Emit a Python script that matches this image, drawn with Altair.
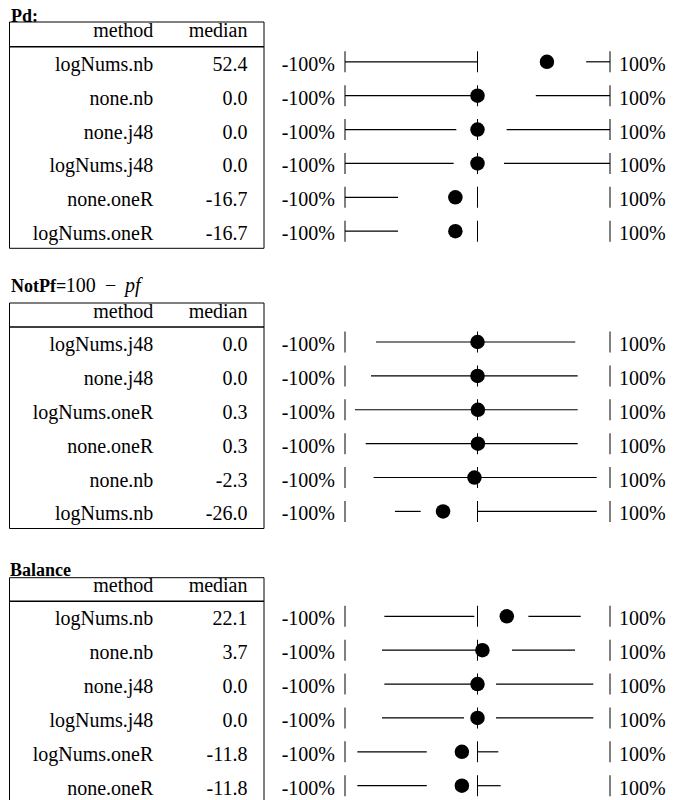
import altair as alt
import pandas as pd

FONT = "Liberation Serif"

# ---------------- data ----------------
ends = [-100, 0, 100]

pd_methods = ["logNums.nb", "none.nb", "none.j48", "logNums.j48", "none.oneR", "logNums.oneR"]
pd_median = [52.4, 0.0, 0.0, 0.0, -16.7, -16.7]
pd_q0 = [-100, -100, -100, -100, -100, -100]
pd_q1 = [0, 0, -16, -18, -60, -60]
pd_q3 = [82, 44, 22, 20, 0, 0]
pd_q4 = [100, 100, 100, 100, 0, 0]

pf_methods = ["logNums.j48", "none.j48", "logNums.oneR", "none.oneR", "none.nb", "logNums.nb"]
pf_median = [0.0, 0.0, 0.3, 0.3, -2.3, -26.0]
pf_q0 = [-76.6, -80.4, -92.5, -84.4, -78.4, -62.3]
pf_q1 = [0, 0, 0.3, 0.3, -2.3, -42.9]
pf_q3 = [0, 0, 0.3, 0.3, -2.3, 0]
pf_q4 = [73.8, 75.6, 75.6, 75.6, 90, 90]

bal_methods = ["logNums.nb", "none.nb", "none.j48", "logNums.j48", "logNums.oneR", "none.oneR"]
bal_median = [22.1, 3.7, 0.0, 0.0, -11.8, -11.8]
bal_q0 = [-70.3, -72.1, -70.3, -72.1, -90.7, -90.7]
bal_q1 = [-2.4, 0, 0, -10.2, -38.3, -38.3]
bal_q3 = [38.4, 26.0, 14.0, 14.0, 0, 0]
bal_q4 = [77.9, 73.6, 87.4, 87.4, 15.7, 17.5]

header_cols = ["method", "median"]

# ---------------- layout ----------------
W = 664
X_DOMAIN = [-354.34, 146.79]
xs = alt.Scale(domain=X_DOMAIN, nice=False, zero=False)
COL_METHOD_X = 145.3
COL_MEDIAN_X = 239.5
BOX_L, BOX_R = 1.5, 256
ROW_DY = 9
TXT = 20


def one():
    return alt.Data(values=[{"k": 0}])


def hrule(x1, x2, y, w=1.0):
    return alt.Chart(one()).mark_rule(color="black", strokeWidth=w).encode(
        x=alt.value(x1), x2=alt.value(x2), y=alt.value(y))


def vrule(x, y1, y2, w=1.0):
    return alt.Chart(one()).mark_rule(color="black", strokeWidth=w).encode(
        x=alt.value(x), y=alt.value(y1), y2=alt.value(y2))


def label(text, x, y, size=TXT, weight="normal", style="normal", align="left"):
    return alt.Chart(one()).mark_text(
        text=text, font=FONT, fontSize=size, fontWeight=weight, fontStyle=style,
        align=align, baseline="alphabetic", color="black").encode(
        x=alt.value(x), y=alt.value(y))


def panel(methods, med, q0, q1, q3, q4, titles, H, ydom, box_top, sep, head_base, box_bottom):
    df = pd.DataFrame({
        "row": list(range(len(methods))),
        "method": methods,
        "median": med,
        "median_label": [f"{v:.1f}" for v in med],
        "q0": q0, "q1": q1, "q3": q3, "q4": q4,
        "lo_end": [ends[0]] * len(methods),
        "hi_end": [ends[-1]] * len(methods),
        "lo_text": [f"{ends[0]}%"] * len(methods),
        "hi_text": [f"{ends[-1]}%"] * len(methods),
    })
    ticks = pd.DataFrame([{"row": i, "v": v} for i in range(len(methods)) for v in ends])
    ys = alt.Scale(domain=ydom, nice=False, zero=False, reverse=True)
    Y = alt.Y("row:Q", scale=ys, axis=None)
    base = alt.Chart(df)

    lo = base.mark_rule(color="black", strokeWidth=1.2).encode(
        x=alt.X("q0:Q", scale=xs, axis=None), x2="q1:Q", y=Y)
    hi = base.mark_rule(color="black", strokeWidth=1.2).encode(
        x=alt.X("q3:Q", scale=xs, axis=None), x2="q4:Q", y=Y)
    tk = alt.Chart(ticks).mark_tick(orient="vertical", size=21, thickness=1, color="black", opacity=1).encode(
        x=alt.X("v:Q", scale=xs, axis=None), y=Y)
    dot = base.mark_circle(size=210, color="black", opacity=1).encode(
        x=alt.X("median:Q", scale=xs, axis=None), y=Y)
    t_method = base.mark_text(align="right", baseline="alphabetic", dy=ROW_DY, font=FONT,
                              fontSize=TXT, color="black").encode(
        x=alt.value(COL_METHOD_X), y=Y, text="method:N")
    t_median = base.mark_text(align="right", baseline="alphabetic", dy=ROW_DY, font=FONT,
                              fontSize=TXT, color="black").encode(
        x=alt.value(COL_MEDIAN_X), y=Y, text="median_label:N")
    t_lo = base.mark_text(align="right", baseline="alphabetic", dy=ROW_DY, dx=-10, font=FONT,
                          fontSize=TXT, color="black").encode(
        x=alt.X("lo_end:Q", scale=xs, axis=None), y=Y, text="lo_text:N")
    t_hi = base.mark_text(align="left", baseline="alphabetic", dy=ROW_DY, dx=9, font=FONT,
                          fontSize=TXT, color="black").encode(
        x=alt.X("hi_end:Q", scale=xs, axis=None), y=Y, text="hi_text:N")

    bottom = box_bottom if box_bottom is not None else H
    layers = [
        hrule(BOX_L, BOX_R, box_top),
        hrule(BOX_L, BOX_R, sep, 1.4),
        vrule(BOX_L, box_top, bottom),
        vrule(BOX_R, box_top, bottom),
    ]
    if box_bottom is not None:
        layers.append(hrule(BOX_L, BOX_R, box_bottom))
    layers += [
        label(header_cols[0], COL_METHOD_X, head_base, align="right"),
        label(header_cols[1], COL_MEDIAN_X, head_base, align="right"),
    ]
    for (text, x, size, weight, style) in titles:
        layers.append(label(text, x, 14.3, size=size, weight=weight, style=style))
    layers += [lo, hi, tk, dot, t_method, t_median, t_lo, t_hi]
    return alt.layer(*layers).properties(width=W, height=H)


STEP = 33.88
p1 = panel(pd_methods, pd_median, pd_q0, pd_q1, pd_q3, pd_q4,
           [("Pd:", 3, 18, "bold", "normal")],
           268, [-53.8 / STEP, -53.8 / STEP + 268 / STEP], 14, 38.7, 29.3, 240.3)
p2 = panel(pf_methods, pf_median, pf_q0, pf_q1, pf_q3, pf_q4,
           [("NotPf=", 3, 18, "bold", "normal"), ("100", 57.7, 20, "normal", "normal"),
            ("\u2212", 97, 20, "normal", "normal"), ("pf", 117, 20, "normal", "italic")],
           284, [-64 / STEP, -64 / STEP + 284 / STEP], 25, 49, 39.6, 250.5)
p3 = panel(bal_methods, bal_median, bal_q0, bal_q1, bal_q3, bal_q4,
           [("Balance", 2, 18, "bold", "normal")],
           240, [-54.3 / STEP, -54.3 / STEP + 240 / STEP], 15.7, 39.3, 29.9, None)

chart = alt.vconcat(p1, p2, p3, spacing=0).properties(padding=0).configure_view(stroke=None)

chart.save("out.html", embed_options={"renderer": "svg", "actions": False})
